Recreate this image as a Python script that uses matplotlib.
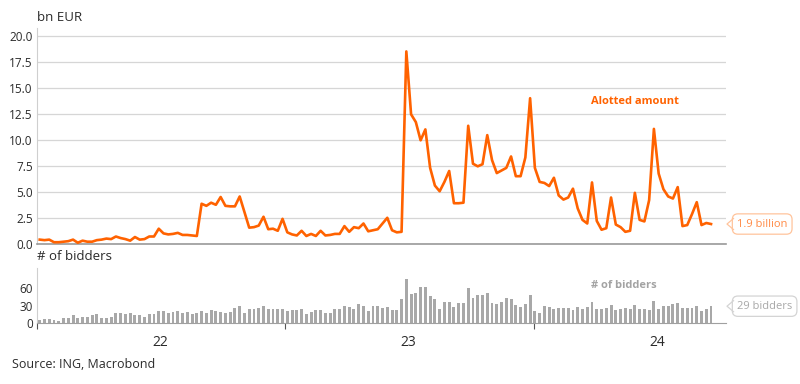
import matplotlib
matplotlib.use("Agg")
import matplotlib.pyplot as plt
import matplotlib.dates as mdates
import pandas as pd
from matplotlib.lines import Line2D
from matplotlib.transforms import IdentityTransform, blended_transform_factory

plt.rcParams["font.family"] = ["Open Sans", "DejaVu Sans"]

ORANGE = "#FF6200"
BAR_GREY = "#A8A8A8"
TEXT = "#2b2b2b"

# weekly operations, first one on 5 Jan 2022
FIRST_OP = "2022-01-05"

# allotted amount, bn EUR
ALLOTTED = [
    0.45, 0.40, 0.45, 0.20, 0.20, 0.25, 0.30, 0.45, 0.15, 0.35,
    0.25, 0.25, 0.40, 0.45, 0.55, 0.50, 0.75, 0.60, 0.50, 0.35,
    0.70, 0.45, 0.50, 0.75, 0.75, 1.50, 1.05, 0.95, 1.00, 1.10,
    0.90, 0.90, 0.85, 0.80, 3.90, 3.70, 4.00, 3.80, 4.55, 3.70,
    3.65, 3.65, 4.60, 3.10, 1.60, 1.65, 1.80, 2.65, 1.45, 1.50,
    1.30, 2.45, 1.15, 0.95, 0.85, 1.30, 0.80, 1.00, 0.80, 1.30,
    0.85, 0.90, 1.00, 1.00, 1.75, 1.20, 1.65, 1.55, 2.00, 1.25,
    1.35, 1.45, 2.00, 2.55, 1.35, 1.15, 1.20, 18.55, 12.50, 11.75,
    10.00, 11.05, 7.35, 5.65, 5.10, 6.00, 7.05, 3.95, 3.95, 4.00,
    11.40, 7.75, 7.50, 7.70, 10.50, 8.10, 6.85, 7.10, 7.35, 8.45,
    6.55, 6.55, 8.35, 14.05, 7.35, 6.00, 5.90, 5.60, 6.40, 4.70,
    4.30, 4.50, 5.35, 3.45, 2.35, 2.00, 5.95, 2.25, 1.40, 1.55,
    4.50, 1.90, 1.65, 1.20, 1.30, 4.95, 2.35, 2.20, 4.25, 11.10,
    6.80, 5.30, 4.60, 4.40, 5.50, 1.75, 1.85, 2.90, 4.05, 1.85,
    2.05, 1.95,
]

# number of bidders
BIDDERS = [
    6, 7, 7, 5, 4, 8, 9, 13, 8, 10,
    11, 13, 15, 9, 9, 10, 17, 17, 15, 17,
    14, 13, 11, 15, 16, 21, 20, 18, 19, 20,
    18, 19, 15, 17, 20, 18, 22, 21, 19, 18,
    19, 26, 30, 18, 24, 24, 26, 30, 25, 24,
    24, 25, 20, 22, 22, 24, 16, 19, 22, 22,
    17, 17, 25, 25, 29, 27, 24, 32, 29, 21,
    30, 29, 26, 28, 22, 22, 41, 76, 50, 52,
    62, 62, 47, 42, 24, 36, 36, 28, 34, 34,
    61, 43, 49, 48, 52, 35, 32, 37, 44, 41,
    31, 27, 33, 49, 21, 18, 30, 28, 24, 26,
    26, 26, 23, 27, 24, 28, 37, 24, 25, 26,
    31, 22, 25, 26, 25, 31, 24, 24, 23, 38,
    25, 29, 29, 32, 34, 26, 26, 26, 29, 20,
    24, 29,
]

AMOUNT_TICKS = [0, 2.5, 5, 7.5, 10, 12.5, 15, 17.5, 20]
BIDDER_TICKS = [0, 30, 60]

dates = pd.date_range(FIRST_OP, periods=len(ALLOTTED), freq="7D")

fig = plt.figure(figsize=(8, 3.84), dpi=100)
ax = fig.add_axes([0.04625, 0.3638, 0.86125, 0.5632])
axb = fig.add_axes([0.04625, 0.1589, 0.86125, 0.1432], sharex=ax)

# top panel: allotted amount
ax.plot(dates, ALLOTTED, color=ORANGE, lw=1.9, zorder=3)
ax.set_ylim(0, 20.8)
ax.set_yticks(AMOUNT_TICKS)
ax.set_yticklabels([f"{t:.1f}" for t in AMOUNT_TICKS])
ax.grid(axis="y", color="#d6d6d6", lw=0.9)
ax.set_axisbelow(True)
ax.tick_params(axis="y", length=0, pad=3, labelsize=8.5, labelcolor=TEXT)
ax.tick_params(axis="x", which="both", length=0, labelbottom=False)
for side in ("top", "right"):
    ax.spines[side].set_visible(False)
ax.spines["left"].set_color("#cfcfcf")
ax.spines["bottom"].set_color("#9a9a9a")
ax.spines["bottom"].set_linewidth(1.2)

# bottom panel: bidders
axb.bar(dates, BIDDERS, width=4.3, color=BAR_GREY, zorder=2)
axb.set_ylim(0, 95)
axb.set_yticks(BIDDER_TICKS)
axb.tick_params(axis="y", length=0, pad=3, labelsize=8.5, labelcolor=TEXT)
for side in ("top", "right"):
    axb.spines[side].set_visible(False)
axb.spines["left"].set_color("#cfcfcf")
axb.spines["bottom"].set_color("#a0a0a0")

axb.set_xlim(pd.Timestamp("2022-01-01"), pd.Timestamp("2024-10-10"))
axb.xaxis.set_major_locator(mdates.YearLocator())
axb.xaxis.set_major_formatter(plt.NullFormatter())
axb.xaxis.set_minor_locator(mdates.YearLocator(month=7))
axb.xaxis.set_minor_formatter(mdates.DateFormatter("%y"))
axb.tick_params(axis="x", which="major", length=4, color="#555555", width=0.8)
axb.tick_params(axis="x", which="minor", length=0, pad=9, labelsize=10, labelcolor=TEXT)

# titles and series labels
fig.text(37 / 800, 1 - 17.5 / 384, "bn EUR", fontsize=9.5, color=TEXT, va="center")
fig.text(37 / 800, 1 - 257 / 384, "# of bidders", fontsize=9.5, color=TEXT, va="center")
fig.text(12 / 800, 1 - 365 / 384, "Source: ING, Macrobond", fontsize=9, color=TEXT, va="center")

ax.text(0.868, 0.659, "Alotted amount", transform=ax.transAxes, ha="center", va="center",
        fontsize=8, fontweight="bold", color=ORANGE)
axb.text(0.852, 0.678, "# of bidders", transform=axb.transAxes, ha="center", va="center",
         fontsize=8, fontweight="bold", color="#a3a3a3")


def callout(axis, value, label, text_color, edge_color):
    axis.annotate(label, xy=(1.0, value), xycoords=("axes fraction", "data"),
                  xytext=(11, 0), textcoords="offset pixels", ha="left", va="center",
                  fontsize=8, color=text_color, annotation_clip=False,
                  bbox=dict(boxstyle="round,pad=0.42,rounding_size=0.5", fc="white",
                            ec=edge_color, lw=0.9))
    tr = blended_transform_factory(axis.transAxes, axis.transData)
    x0, y0 = tr.transform((1.0, value))
    fig.add_artist(Line2D([x0 + 7.5, x0 + 1, x0 + 7.5], [y0 + 5.5, y0, y0 - 5.5],
                          transform=IdentityTransform(), color=edge_color, lw=0.9))


callout(ax, ALLOTTED[-1], "1.9 billion", "#ff8a45", "#ffc49c")
callout(axb, BIDDERS[-1], "29 bidders", "#a8a8a8", "#d4d4d4")

fig.savefig("out.png", dpi=100)
